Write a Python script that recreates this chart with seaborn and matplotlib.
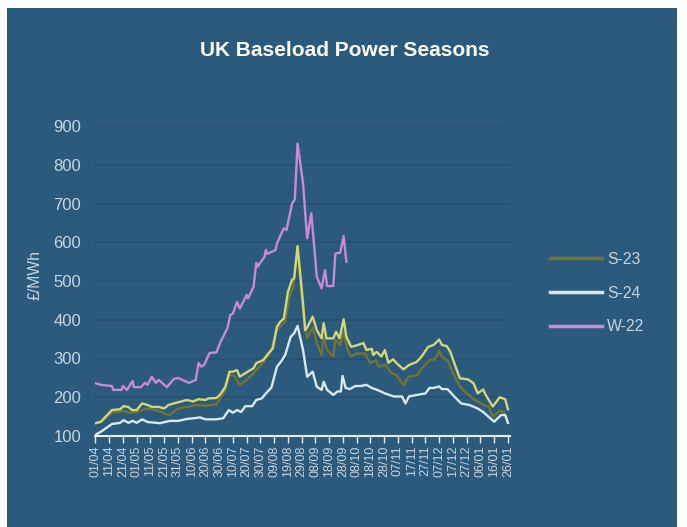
import numpy as np
import pandas as pd
import matplotlib
matplotlib.use("Agg")
import matplotlib.pyplot as plt
from matplotlib.patches import Rectangle
from matplotlib.lines import Line2D
import seaborn as sns

# ---------------- data ----------------
start_date = "2022-04-01"

w22_days = [0, 4, 12, 13, 19, 20, 23, 27, 28, 33, 36, 38, 41, 44, 46, 52, 57, 60, 68, 73, 75, 77, 79,
            83, 88, 91, 96, 98, 100, 103, 105, 110, 111, 115, 117, 118, 123, 124, 125, 131, 132, 137,
            139, 143, 145, 147, 151, 152.5, 154, 157, 158.5, 161, 164.5, 167, 168.5, 173, 174.5, 178,
            180.5, 182.5]
w22_vals = [236, 232, 229, 219, 219, 229, 219, 242, 226, 226, 237, 232, 253, 237, 245, 226, 247, 250,
            237, 245, 288, 279, 283, 314, 316, 343, 378, 412, 416, 446, 429, 464, 455, 485, 547, 537,
            563, 580, 570, 580, 597, 636, 632, 700, 710, 855, 752, 679, 610, 675, 614, 511, 481, 528,
            487, 487, 571, 573, 616, 550]

s23y_days = [0, 4, 8.5, 12, 18, 20.5, 24, 26.5, 30, 34, 38, 41, 46, 50, 53, 59, 66.5, 71, 75, 80, 82,
             88, 91, 94.5, 97.5, 100, 103, 105, 109, 115, 117, 122, 126, 129, 132, 134.5, 137, 140,
             143, 144.5, 147, 151, 152.5, 154, 158, 161, 164.5, 166, 168, 173, 175, 177.5, 180.5,
             182.5, 186, 191, 195, 197, 201, 202, 204.5, 208, 210.5, 213, 216.5, 219, 224, 228,
             233.5, 237, 242, 246, 250, 252, 255.5, 258, 261.5, 265, 271, 275, 278, 282, 284, 289,
             294, 298, 300]
s23y_vals = [133, 137, 154, 167, 169, 177, 175, 167, 167, 184, 180, 175, 175, 171, 180, 186, 193, 189,
             195, 193, 197, 198, 208, 227, 266, 266, 270, 253, 262, 275, 288, 296, 314, 326, 382, 395,
             403, 472, 503, 507, 590, 442, 373, 380, 408, 373, 352, 391, 352, 352, 369, 352, 401, 356,
             330, 335, 340, 322, 325, 309, 317, 305, 322, 289, 298, 288, 272, 283, 291, 304, 330, 335,
             349, 335, 332, 318, 283, 249, 246, 236, 210, 220, 205, 176, 200, 195, 169]

s23_days = [0, 4, 12, 20, 25, 30, 38, 46, 50, 54, 60, 67, 73, 80, 88, 94, 97.5, 101, 105, 110, 115,
            122, 127, 132, 135, 138, 141, 144, 147, 151, 154, 158, 161, 164.5, 166, 168.5, 173, 174.5,
            178, 180.5, 183, 186, 190, 196, 200, 204, 206, 211, 215, 219, 224, 228, 234, 238, 243,
            247, 250, 252, 256, 260, 265, 270, 276, 282, 286, 289, 294, 297, 300]
s23_vals = [133, 135, 160, 165, 160, 162, 171, 165, 158, 154, 171, 175, 180, 178, 182, 215, 258, 255,
            232, 245, 262, 290, 314, 373, 385, 395, 460, 485, 580, 421, 352, 380, 340, 309, 356, 322,
            305, 348, 335, 369, 326, 305, 313, 313, 288, 296, 279, 283, 263, 257, 232, 253, 257, 277,
            296, 298, 320, 303, 296, 262, 228, 210, 193, 180, 176, 150, 165, 162, 134]

s24_days = [0, 4, 12, 18, 20.5, 24, 27, 30, 34, 38, 47, 54, 60, 66.5, 72, 76, 80, 88, 93, 97, 100,
            103, 106, 109, 114, 117, 121, 124, 128, 132, 135, 138, 142, 144.5, 147, 151, 154, 158,
            161, 164.5, 166, 168.5, 173, 176, 178.5, 179.7, 182, 185, 189, 193, 197, 201, 205, 210.5,
            217, 223, 225.5, 228, 234, 240, 243, 246, 250, 252, 256, 261, 266, 272, 278, 282, 287,
            290, 295, 298, 300]
s24_vals = [103, 111, 131, 134, 141, 134, 139, 134, 143, 136, 133, 139, 139, 144, 146, 148, 143, 143,
            146, 167, 160, 167, 162, 177, 177, 193, 197, 210, 225, 279, 292, 309, 356, 365, 384, 322,
            253, 266, 227, 219, 240, 219, 206, 215, 215, 255, 224, 221, 229, 229, 232, 224, 219, 210,
            202, 202, 184, 202, 206, 210, 224, 224, 228, 221, 221, 202, 184, 180, 171, 162, 146, 137,
            154, 154, 134]

series_names = ["S-23", "S-24", "W-22"]
colors = {"S-23": "#727531", "S-23b": "#D2D77A", "S-24": "#D8E9F2", "W-22": "#C98AD6"}

BG = "#2C5A7C"
GRID = "#28506F"
TXT = "#C9D5DE"
FONT = "Liberation Sans"

def frame(days, vals, name):
    return pd.DataFrame({
        "date": pd.Timestamp(start_date) + pd.to_timedelta(np.array(days, dtype=float), unit="D"),
        "price": vals,
        "series": name,
    })

df_s23 = frame(s23_days, s23_vals, "S-23")
df_s23b = frame(s23y_days, s23y_vals, "S-23b")
df_s24 = frame(s24_days, s24_vals, "S-24")
df_w22 = frame(w22_days, w22_vals, "W-22")

# ---------------- figure ----------------
fig = plt.figure(figsize=(6.87, 5.27), dpi=100, facecolor="white")
fig.patches.append(Rectangle((7 / 687, 0), (677 - 7) / 687, 1 - 8 / 527,
                             transform=fig.transFigure, facecolor=BG, edgecolor="none", zorder=-10))

ax = fig.add_axes([95 / 687, 1 - 436 / 527, (510 - 95) / 687, (436 - 126) / 527])
ax.set_facecolor(BG)

for d in [df_s23, df_s23b, df_s24, df_w22]:
    name = d["series"].iloc[0]
    sns.lineplot(data=d, x="date", y="price", ax=ax, color=colors[name], linewidth=1.7,
                 sort=False, estimator=None, legend=False)

# axes styling
t0 = pd.Timestamp(start_date)
ax.set_xlim(t0 - pd.Timedelta(days=0.3), t0 + pd.Timedelta(days=301.5))
ax.set_ylim(100, 900)
ax.set_yticks(range(100, 901, 100))
ax.yaxis.grid(True, color=GRID, linewidth=1.2)
ax.xaxis.grid(False)
ax.set_axisbelow(True)
ticks = [t0 + pd.Timedelta(days=10 * i) for i in range(31)]
ax.set_xticks(ticks)
ax.set_xticklabels([t.strftime("%d/%m") for t in ticks], rotation=90)
ax.tick_params(axis="x", colors=TXT, labelsize=9, length=5, width=1, direction="out", pad=2)
ax.tick_params(axis="x", color="#E8EEF2")
ax.tick_params(axis="y", colors=TXT, labelsize=12, length=0, pad=10)
for s in ["top", "right", "left"]:
    ax.spines[s].set_visible(False)
ax.spines["bottom"].set_color("#E8EEF2")
ax.spines["bottom"].set_linewidth(1.5)
ax.set_xlabel("")
ax.set_ylabel("£/MWh", color=TXT, fontsize=11.3, family=FONT)
ax.yaxis.set_label_coords((43 - 95) / 415, (436 - 275) / 310)

for lab in ax.get_xticklabels() + ax.get_yticklabels():
    lab.set_fontfamily(FONT)

# title
fig.text(345 / 687, 1 - 50 / 527, "UK Baseload Power Seasons", ha="center", va="center",
         color="white", fontsize=15, fontweight="bold", family=FONT)

# legend (three series)
handles = [Line2D([0], [0], color=colors[n], linewidth=2.5) for n in series_names]
leg = fig.legend(handles, series_names, loc="center left", bbox_to_anchor=(536 / 687, 1 - 293 / 527),
                 frameon=False, handlelength=3.3, handletextpad=0.35, labelspacing=1.2,
                 prop={"family": FONT, "size": 11.3})
for t in leg.get_texts():
    t.set_color(TXT)

fig.savefig("out.png", dpi=100, facecolor="white")
